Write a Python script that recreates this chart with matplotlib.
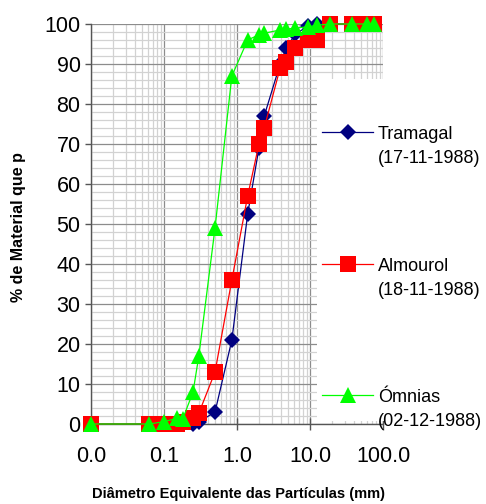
import matplotlib
matplotlib.use("Agg")
import matplotlib.pyplot as plt
from matplotlib.lines import Line2D
from matplotlib.patches import Rectangle
from matplotlib.ticker import FixedLocator, LogLocator, NullFormatter, MultipleLocator

plt.rcParams['font.family'] = ['Liberation Sans', 'DejaVu Sans']

# Particle sizes (mm) and cumulative % passing for each sample
sizes = [0.01, 0.063, 0.1, 0.15, 0.18, 0.25, 0.3, 0.5, 0.85, 1.4, 2.0, 2.36,
         3.9, 4.75, 6.3, 9.5, 12.5, 19.0, 37.5, 60.0, 75.0]
tramagal = [0, 0, 0, 0, 0, 0, 0.5, 3, 21, 52.5, 69, 77,
            90, 94, 97.5, 99.5, 100, 100, 100, 100, 100]
almourol = [0, 0, 0, 0, 0.5, 1.5, 2.7, 13, 36, 57, 70, 74,
            89, 90.5, 94, 96, 96, 100, 100, 100, 100]
omnias = [0, 0, 0.6, 1.4, 1.2, 8, 17, 49, 87, 96, 97.3, 97.7,
          98.5, 98.7, 99, 99.3, 99.7, 100, 100, 100, 100]

series_names = ["Tramagal", "Almourol", "Ómnias"]
series_dates = ["(17-11-1988)", "(18-11-1988)", "(02-12-1988)"]
x_ticks = [0.01, 0.1, 1, 10, 100]
x_tick_labels = ["0.0", "0.1", "1.0", "10.0", "100.0"]

W, H = 486, 504
fig = plt.figure(figsize=(W / 100, H / 100), dpi=100)
L, R, T, B = 91, 383, 24, 424
ax = fig.add_axes([L / W, (H - B) / H, (R - L) / W, (B - T) / H])

styles = [
    dict(color="#000080", marker="D", markersize=8),
    dict(color="#FF0000", marker="s", markersize=11),
    dict(color="#00FF00", marker="^", markersize=11.5),
]
for ys, st in zip([tramagal, almourol, omnias], styles):
    ax.plot(sizes, ys, lw=0.9, markeredgewidth=0, clip_on=False, zorder=3, **st)

ax.set_xscale("log")
ax.set_xlim(0.01, 100)
ax.set_ylim(0, 100)

ax.xaxis.set_major_locator(FixedLocator(x_ticks))
ax.set_xticklabels(x_tick_labels)
ax.xaxis.set_minor_locator(LogLocator(base=10, subs=range(2, 10)))
ax.xaxis.set_minor_formatter(NullFormatter())
ax.yaxis.set_major_locator(MultipleLocator(10))
ax.yaxis.set_minor_locator(MultipleLocator(2))

ax.grid(which="major", color="#8c8c8c", lw=0.9)
ax.grid(which="minor", color="#d2d2d2", lw=0.9)
ax.set_axisbelow(True)

for s in ["top", "right"]:
    ax.spines[s].set_visible(False)
for s in ["left", "bottom"]:
    ax.spines[s].set_color("#555555")
    ax.spines[s].set_linewidth(1.0)

ax.tick_params(axis="y", which="major", direction="out", length=4.5, width=1,
               color="#555555", labelsize=15.5, pad=3)
ax.tick_params(axis="x", which="major", direction="inout", length=9, width=1,
               color="#555555", labelsize=15.5, pad=11)
ax.tick_params(which="minor", length=0)

ax.set_ylabel("% de Material que p", fontsize=11.5, fontweight="bold", va="center")
ax.yaxis.set_label_coords((19 - L) / (R - L), (B - 227) / (B - T))
ax.set_xlabel("Diâmetro Equivalente das Partículas (mm)", fontsize=10.5,
              fontweight="bold", va="center")
ax.xaxis.set_label_coords((238 - L) / (R - L), (B - 494) / (B - T))

# Legend panel on the right, over the plot area
def fx(px):
    return px / W

def fy(py):
    return (H - py) / H

fig.add_artist(Rectangle((fx(317), fy(421)), fx(486) - fx(317), fy(79) - fy(421),
                         transform=fig.transFigure, facecolor="white",
                         edgecolor="none", zorder=5))

rows = [132, 264, 395]
for name, date, st, yc in zip(series_names, series_dates, styles, rows):
    fig.add_artist(Line2D([fx(322), fx(373)], [fy(yc), fy(yc)],
                          transform=fig.transFigure, color=st["color"], lw=0.9,
                          zorder=6))
    fig.add_artist(Line2D([fx(347.5)], [fy(yc)], transform=fig.transFigure,
                          color=st["color"], marker=st["marker"],
                          markersize=st["markersize"], markeredgewidth=0,
                          zorder=7))
    fig.text(fx(378), fy(yc + 7), name, fontsize=13, ha="left", va="baseline",
             zorder=8)
    fig.text(fx(378), fy(yc + 31), date, fontsize=13, ha="left", va="baseline",
             zorder=8)

fig.savefig("out.png", dpi=100)
